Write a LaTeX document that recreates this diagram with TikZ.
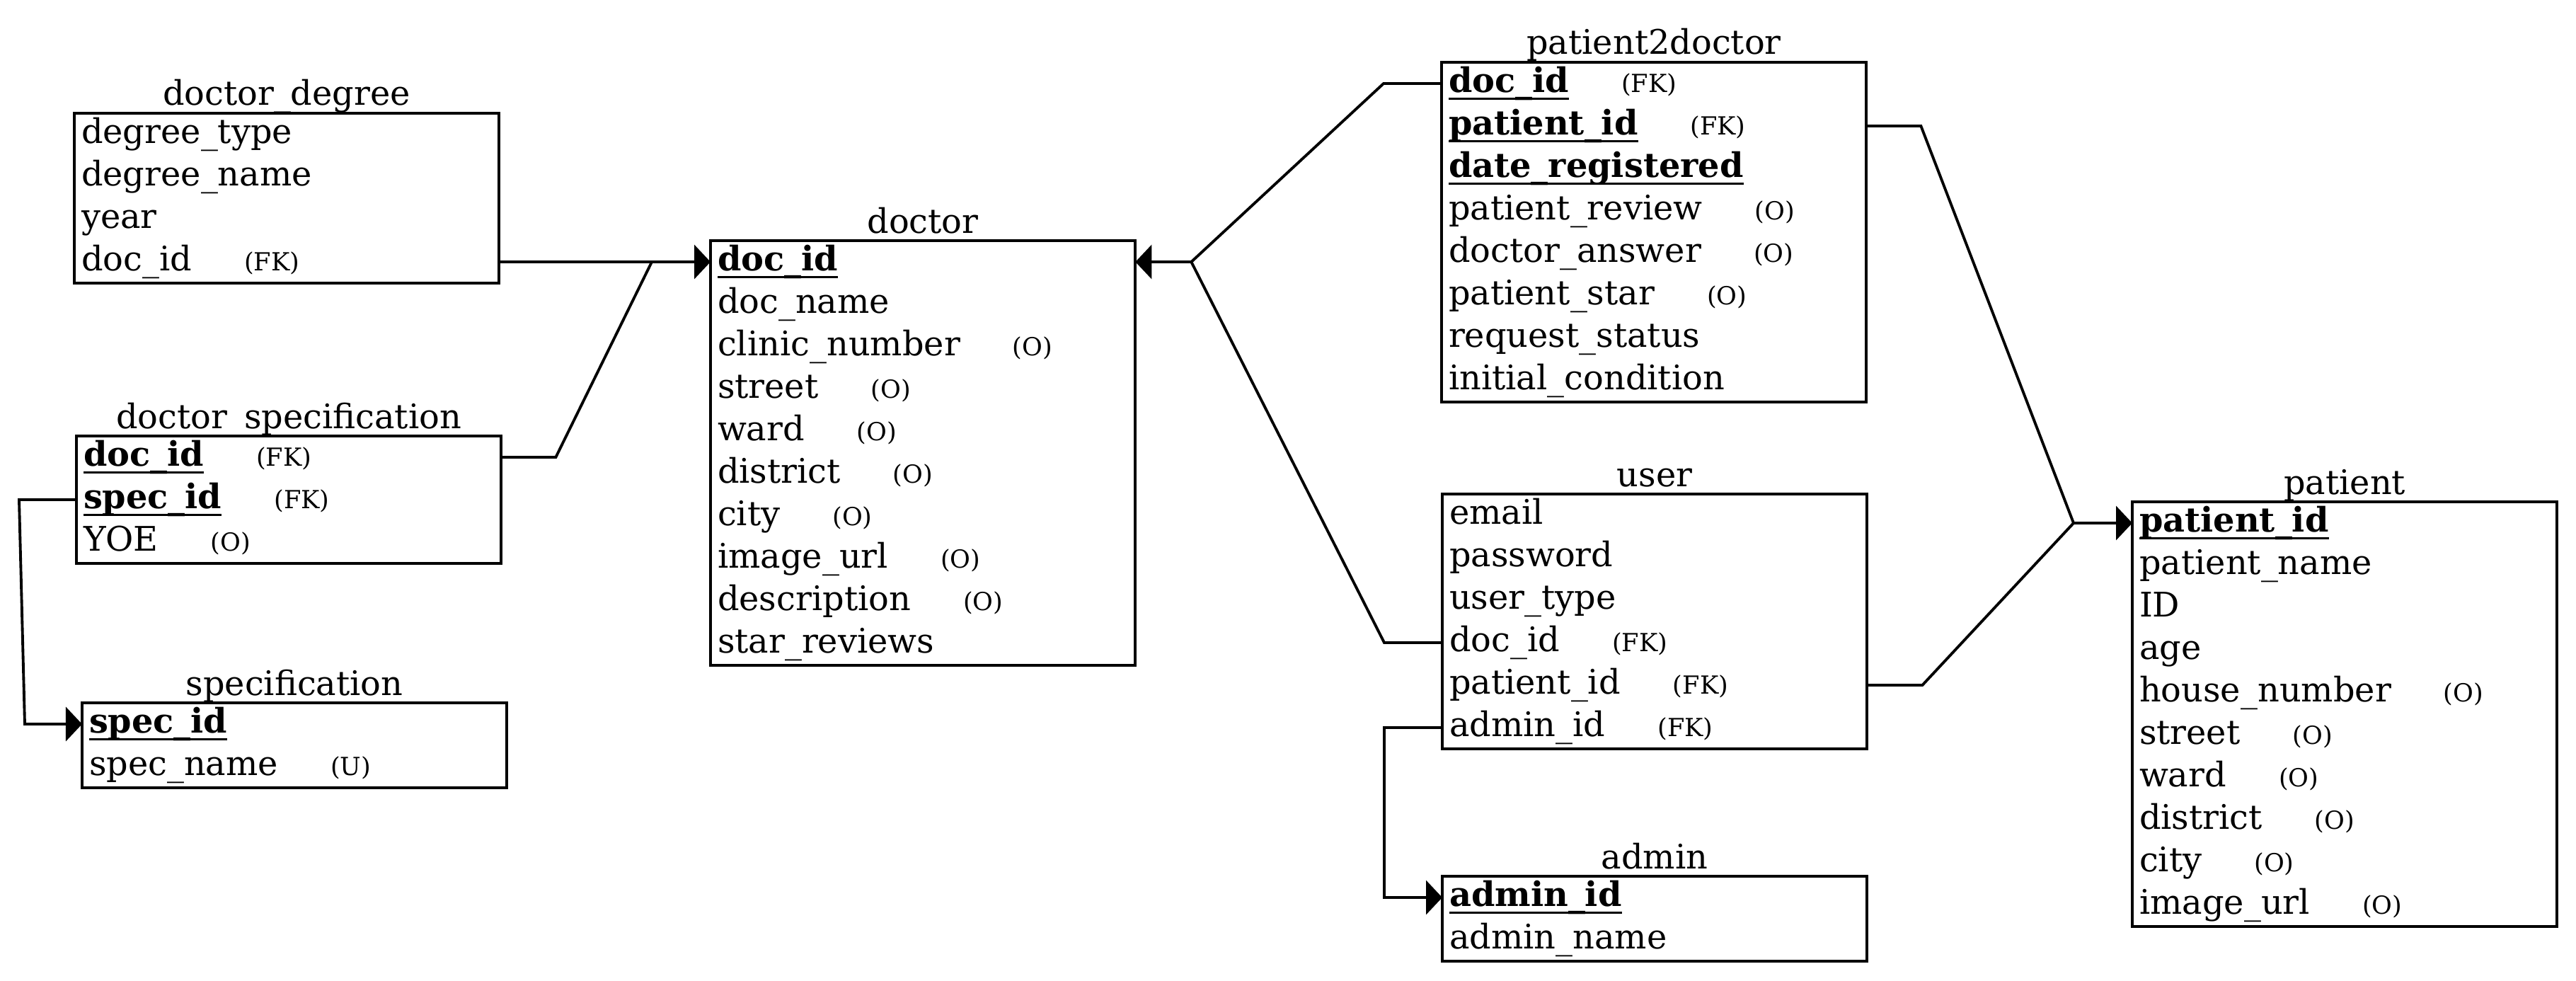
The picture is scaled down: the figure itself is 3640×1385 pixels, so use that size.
\documentclass[tikz,border=0pt]{standalone}
\usepackage{fontspec}
\setmainfont{DejaVu Serif}
\usetikzlibrary{arrows.meta,calc}

% primary-key field: bold with a rule underneath
\newcommand\pk[1]{\setbox0\hbox{\bfseries #1}\rlap{\rule[-3.1pt]{\wd0}{0.8pt}}\box0}
% small constraint tag after a field name
\newcommand\lbl[1]{\hspace{0.74cm}{\fontsize{10}{12}\selectfont #1}}
\newcommand\fieldfont{\fontsize{13.6}{16}\selectfont}

\tikzset{
  tbl/.style={draw, fill=white, line width=1.1pt, anchor=north west,
    minimum width=6cm, inner sep=0pt, outer sep=0pt},
  row/.style={anchor=north west, minimum width=6cm, minimum height=0.6cm,
    text width=5.8cm, inner xsep=0.1cm, inner ysep=0pt, outer sep=0pt,
    align=left, text height=10pt, text depth=3.17pt, font=\fieldfont},
  ttl/.style={anchor=base, font=\fieldfont, inner sep=0pt},
  link/.style={line width=1.1pt},
  fk/.style={link, -{Triangle[length=0.23cm,width=0.48cm]}},
}

% table: name, left, top, number of rows, title, fields
\newcommand\erd[6]{%
  \node[ttl] (#1-t) at ({#2+300},{#3-11}) {#5};
  \node[tbl, minimum height={#4*0.6cm}] (#1) at (#2,#3) {};
  \foreach \fld [count=\i] in {#6}
    \node[row] (#1-\i) at ($(#1.north west)+(0,{60*(\i-1)})$) {\fld};
}

\begin{document}
\begin{tikzpicture}[x=0.01cm,y=-0.01cm]
\useasboundingbox (0,0) rectangle (3640,1385);
\fill[white] (0,0) rectangle (3640,1385);

\erd{ddeg}{105}{160}{4}{doctor\_degree}{degree\_type, degree\_name, year, doc\_id\lbl{(FK)}}
\erd{dspec}{108}{616}{3}{doctor\_specification}{\pk{doc\_id}\lbl{(FK)}, \pk{spec\_id}\lbl{(FK)}, YOE\lbl{(O)}}
\erd{spec}{116}{993}{2}{specification}{\pk{spec\_id}, spec\_name\lbl{(U)}}
\erd{doctor}{1004}{340}{10}{doctor}{\pk{doc\_id}, doc\_name, clinic\_number\lbl{(O)}, street\lbl{(O)}, ward\lbl{(O)}, district\lbl{(O)}, city\lbl{(O)}, image\_url\lbl{(O)}, description\lbl{(O)}, star\_reviews}
\erd{p2d}{2037}{88}{8}{patient2doctor}{\pk{doc\_id}\lbl{(FK)}, \pk{patient\_id}\lbl{(FK)}, \pk{date\_registered}, patient\_review\lbl{(O)}, doctor\_answer\lbl{(O)}, patient\_star\lbl{(O)}, request\_status, initial\_condition}
\erd{user}{2038}{698}{6}{user}{email, password, user\_type, doc\_id\lbl{(FK)}, patient\_id\lbl{(FK)}, admin\_id\lbl{(FK)}}
\erd{admin}{2038}{1238}{2}{admin}{\pk{admin\_id}, admin\_name}
\erd{patient}{3013}{709}{10}{patient}{\pk{patient\_id}, patient\_name, ID, age, house\_number\lbl{(O)}, street\lbl{(O)}, ward\lbl{(O)}, district\lbl{(O)}, city\lbl{(O)}, image\_url\lbl{(O)}}

% junction points where two references merge
\coordinate (jdl) at ($(doctor-1.west)+(-83,0)$);
\coordinate (jdr) at ($(doctor-1.east)+(79,0)$);
\coordinate (jpt) at ($(patient-1.west)+(-83,0)$);

% references to doctor
\draw[fk] (ddeg-4.east) -- (doctor-1.west);
\draw[link] (dspec-1.east) -- ++(77,0) -- (jdl);
\draw[fk] (p2d-1.west) -- ++(-82,0) -- (jdr) -- (doctor-1.east);
\draw[link] (user-4.west) -- ++(-82,0) -- (jdr);

% reference to specification
\draw[fk] (dspec-2.west) -- ++(-81,0) -- ($(spec-1.west)+(-81,0)$) -- (spec-1.west);

% reference to admin
\draw[fk] (user-6.west) -- ++(-82,0) |- (admin-1.west);

% references to patient
\draw[fk] (p2d-2.east) -- ++(77,0) -- (jpt) -- (patient-1.west);
\draw[link] (user-5.east) -- ++(78,0) -- (jpt);
\end{tikzpicture}
\end{document}
